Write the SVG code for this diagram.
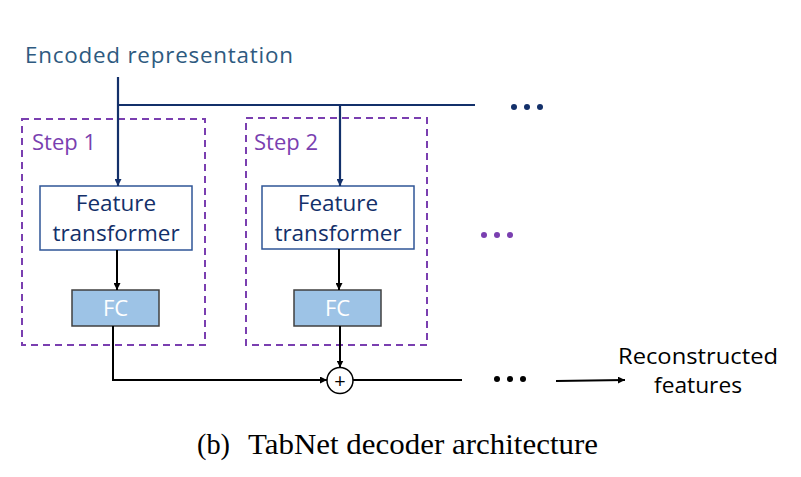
<svg xmlns="http://www.w3.org/2000/svg" width="801" height="477" viewBox="0 0 801 477">
<defs>
<style>
.lbl{font-family:"Open Sans","Liberation Sans",sans-serif;}
.navy{stroke:#13306a;stroke-width:2.2;fill:none}
.blk{stroke:#000;stroke-width:2;fill:none}
.step{fill:none;stroke:#7a3fb0;stroke-width:2;stroke-dasharray:7,5}
.ft{fill:#fff;stroke:#2f5597;stroke-width:1.5}
.fc{fill:#9dc3e6;stroke:#404040;stroke-width:1.5}
.ftt{font-size:22.5px;fill:#13306a;text-anchor:middle}
.fct{font-size:22px;fill:#fff;text-anchor:middle}
.stept{font-size:22px;fill:#7a3fb0}
</style>
<marker id="an" viewBox="0 0 10 10" refX="10" refY="5" markerWidth="7" markerHeight="7" orient="auto" markerUnits="userSpaceOnUse"><path d="M0,0 L10,5 L0,10 z" fill="#13306a"/></marker>
<marker id="ab" viewBox="0 0 10 10" refX="10" refY="5" markerWidth="7" markerHeight="7" orient="auto" markerUnits="userSpaceOnUse"><path d="M0,0 L10,5 L0,10 z" fill="#000"/></marker>
</defs>
<rect width="801" height="477" fill="#fff"/>
<g id="title"><text class="lbl" x="25" y="63" font-size="22.4" fill="#2e5a80" textLength="268">Encoded representation</text></g>
<g id="step1">
<rect class="step" x="22" y="119" width="183" height="226"/>
<text class="lbl stept" x="32" y="150">Step 1</text>
</g>
<g id="step2">
<rect class="step" x="246" y="118" width="181" height="227"/>
<text class="lbl stept" x="254" y="150">Step 2</text>
</g>
<g id="ft1"><rect class="ft" x="40" y="186" width="152" height="64"/>
<text class="lbl ftt" x="116" y="211">Feature</text><text class="lbl ftt" x="116" y="241">transformer</text></g>
<g id="ft2"><rect class="ft" x="262" y="186" width="152" height="63"/>
<text class="lbl ftt" x="338" y="211">Feature</text><text class="lbl ftt" x="338" y="241">transformer</text></g>
<g id="fc1"><rect class="fc" x="72" y="290" width="87" height="36"/><text class="lbl fct" x="115.5" y="316">FC</text></g>
<g id="fc2"><rect class="fc" x="294" y="290" width="87" height="36"/><text class="lbl fct" x="337.5" y="316">FC</text></g>
<g id="sum"><circle cx="340" cy="380.5" r="13" fill="#fff" stroke="#000" stroke-width="1.5"/><text class="lbl" x="340" y="387.5" font-size="20" text-anchor="middle" fill="#000">+</text></g>
<g id="output"><text class="lbl" x="698" y="364" font-size="21" text-anchor="middle" fill="#000" textLength="160" lengthAdjust="spacingAndGlyphs">Reconstructed</text><text class="lbl" x="698" y="393" font-size="21" text-anchor="middle" fill="#000" textLength="88" lengthAdjust="spacingAndGlyphs">features</text></g>
<g id="connectors">
<path class="navy" d="M118,77 V186" marker-end="url(#an)"/>
<path class="navy" d="M118,105 H475"/>
<path class="navy" d="M340,105 V186" marker-end="url(#an)"/>
<path class="blk" d="M117,250 V290" marker-end="url(#ab)"/>
<path class="blk" d="M339,249 V290" marker-end="url(#ab)"/>
<path class="blk" d="M113,326 V380 H327" marker-end="url(#ab)"/>
<path class="blk" d="M340,326 V367.5" marker-end="url(#ab)"/>
<path class="blk" d="M353,380 H462"/>
<path class="blk" d="M556,381 L625,380" marker-end="url(#ab)"/>
</g>
<g id="dots">
<circle cx="514" cy="107" r="3" fill="#13306a"/><circle cx="527" cy="107" r="3" fill="#13306a"/><circle cx="540" cy="107" r="3" fill="#13306a"/>
<circle cx="484" cy="235" r="3" fill="#7a3fb0"/><circle cx="497" cy="235" r="3" fill="#7a3fb0"/><circle cx="510" cy="235" r="3" fill="#7a3fb0"/>
<circle cx="497" cy="379" r="3" fill="#000"/><circle cx="510" cy="379" r="3" fill="#000"/><circle cx="523" cy="379" r="3" fill="#000"/>
</g>
<g id="caption"><text x="197" y="454" font-family="Liberation Serif,serif" font-size="29" fill="#000"><tspan textLength="33" lengthAdjust="spacingAndGlyphs">(b)</tspan><tspan x="248" textLength="350" lengthAdjust="spacingAndGlyphs">TabNet decoder architecture</tspan></text></g>
</svg>
